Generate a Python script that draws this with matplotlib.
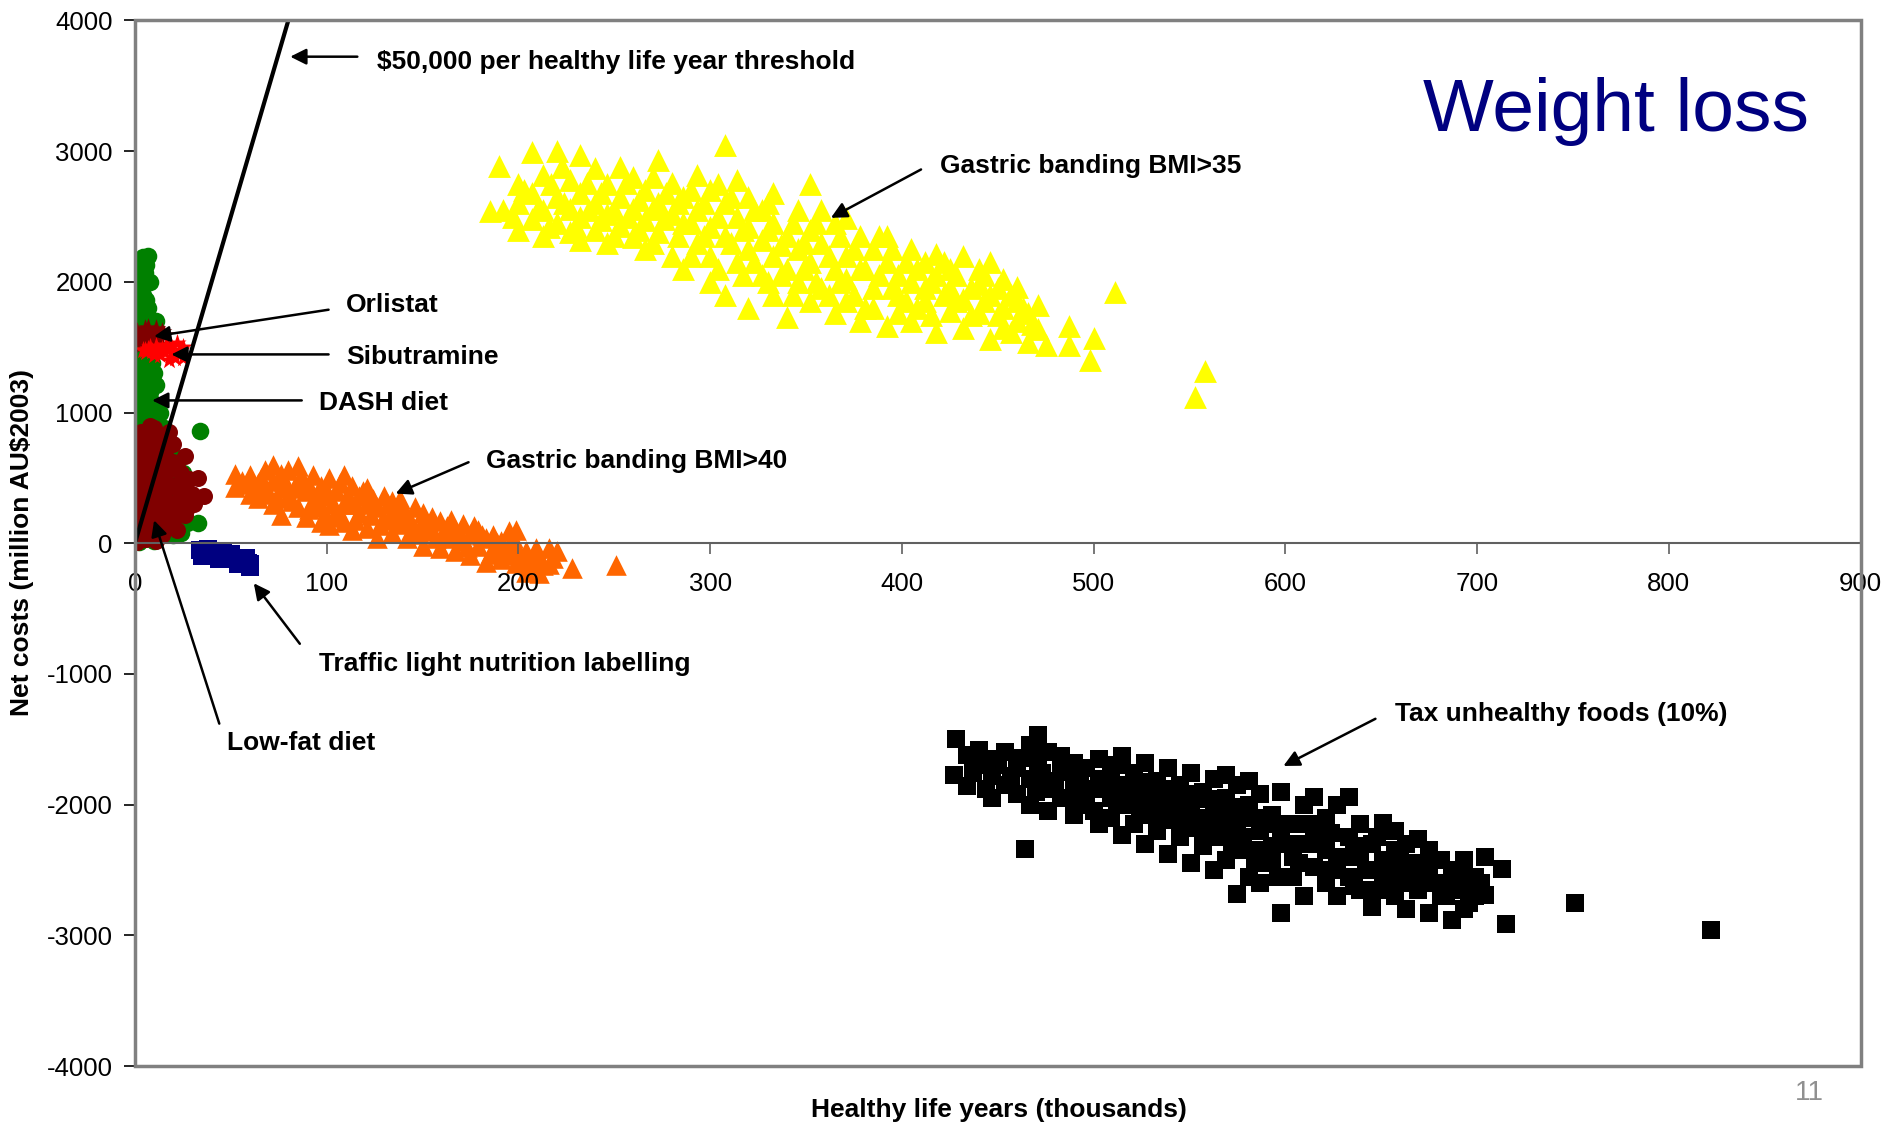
import matplotlib
matplotlib.use('Agg')
import matplotlib.pyplot as plt
from matplotlib.patches import Rectangle

plt.rcParams['font.family'] = ['Liberation Sans', 'DejaVu Sans']
plt.rcParams['axes.unicode_minus'] = False

# (healthy life years in thousands, net cost in million AU$2003)
gastric_35 = [
    (185, 2540), (190, 2890), (192, 2550),
    (200, 2400), (200, 2600), (200, 2750),
    (207, 2990), (207, 2480), (207, 2680),
    (213, 2350), (213, 2550), (213, 2820),
    (220, 3000), (220, 2450), (220, 2650),
    (227, 2380), (227, 2780), (227, 2560),
    (232, 2970), (232, 2500), (232, 2320), (232, 2680),
    (240, 2870), (240, 2600), (240, 2400),
    (246, 2300), (246, 2750), (246, 2520),
    (253, 2650), (253, 2430), (253, 2880),
    (260, 2340), (260, 2560), (260, 2800),
    (266, 2470), (266, 2700), (266, 2250),
    (273, 2930), (273, 2600), (273, 2380),
    (280, 2200), (280, 2520), (280, 2760),
    (286, 2450), (286, 2650), (286, 2100),
    (293, 2820), (293, 2300), (293, 2550),
    (300, 2000), (300, 2420), (300, 2700), (300, 2200),
    (308, 3050), (308, 2600), (308, 2350), (308, 1900),
    (314, 2500), (314, 2150), (314, 2780),
    (320, 1800), (320, 2250), (320, 2650), (320, 2420),
    (327, 2050), (327, 2550), (327, 2320),
    (333, 2680), (333, 1900), (333, 2200), (333, 2450),
    (340, 1730), (340, 2100), (340, 2350),
    (346, 2550), (346, 2000), (346, 2250),
    (352, 2750), (352, 1850), (352, 2400), (352, 2150),
    (358, 1950), (358, 2300), (358, 2550),
    (365, 1760), (365, 2100), (365, 2450),
    (371, 2490), (371, 1850), (371, 2200), (371, 2020),
    (378, 1700), (378, 2350), (378, 2100),
    (385, 1950), (385, 2250), (385, 1800),
    (392, 1660), (392, 2150), (392, 2350),
    (398, 1900), (398, 2050), (398, 1760),
    (405, 2250), (405, 1700), (405, 2000),
    (412, 1850), (412, 2150), (412, 1950),
    (418, 2210), (418, 1620), (418, 2050),
    (425, 1780), (425, 1950), (425, 2100),
    (432, 2200), (432, 1870), (432, 1650),
    (440, 1980), (440, 1760), (440, 2100),
    (446, 1560), (446, 1900), (446, 2150),
    (453, 1800), (453, 1650), (453, 2020),
    (460, 1960), (460, 1700), (460, 1850),
    (466, 1540), (466, 1760), (471, 1820), (471, 1640), (475, 1520),
    (487, 1660), (487, 1520), (498, 1400), (500, 1570), (511, 1920),
    (553, 1120), (558, 1320),
    # inner fill of the cloud
    (197, 2500), (203, 2700), (210, 2560), (216, 2420), (217, 2750),
    (223, 2880), (224, 2600), (230, 2420), (236, 2760), (237, 2550),
    (243, 2470), (243, 2680), (250, 2550), (250, 2350), (256, 2760),
    (257, 2500), (263, 2400), (263, 2630), (270, 2300), (270, 2560),
    (270, 2800), (276, 2480), (277, 2680), (283, 2350), (283, 2600),
    (290, 2200), (290, 2700), (290, 2450), (297, 2350), (297, 2600),
    (304, 2500), (304, 2100), (304, 2750), (311, 2300), (311, 2650),
    (317, 2050), (317, 2400), (323, 2550), (323, 2150), (330, 2400),
    (330, 2000), (330, 2600), (337, 2280), (337, 2050), (343, 2450),
    (343, 1900), (349, 2300), (349, 2100), (355, 2450), (355, 2000),
    (362, 2200), (362, 1900), (368, 2350), (368, 2000), (375, 2250),
    (375, 1900), (381, 2100), (381, 1800), (388, 2050), (388, 2350),
    (395, 1950), (395, 2250), (402, 2150), (402, 1850), (408, 2100),
    (408, 1800), (415, 2000), (415, 1750), (422, 1900), (422, 2150),
    (428, 1850), (428, 2050), (436, 1950), (436, 1750), (443, 1850),
    (443, 2050), (450, 1750), (450, 1950), (457, 1900), (457, 1620),
    (463, 1800), (468, 1680),
]

gastric_40 = [
    (52, 530), (52, 430), (56, 480), (60, 520), (60, 380), (64, 460), (64, 350),
    (68, 560), (68, 410), (72, 600), (72, 300), (72, 480), (76, 420), (76, 220),
    (76, 530), (80, 560), (80, 360), (85, 590), (85, 280), (85, 460), (89, 400),
    (89, 200), (93, 520), (93, 330), (97, 440), (97, 160), (97, 280), (101, 500),
    (101, 360), (101, 140), (105, 400), (105, 240), (109, 520), (109, 300),
    (109, 160), (113, 440), (113, 100), (117, 360), (117, 230), (121, 420),
    (121, 120), (121, 300), (126, 280), (126, 40), (130, 360), (130, 180),
    (134, 240), (134, 80), (134, 320), (138, 340), (138, 150), (142, 200),
    (142, 40), (146, 280), (146, 110), (150, 160), (150, -20), (150, 230),
    (155, 90), (155, 200), (159, 170), (159, -40), (163, 40), (163, 130),
    (167, 110), (167, -60), (171, 20), (171, 150), (175, 70), (175, -90),
    (179, -20), (179, 100), (183, 40), (183, -140), (187, -60), (187, 60),
    (191, 20), (191, -120), (195, -90), (195, 90), (199, -30), (199, 100),
    (199, -150), (204, -60), (204, -220), (207, -150), (211, -100), (211, -230),
    (216, -40), (216, -160), (220, -60), (228, -190), (251, -170),
    (58, 450), (62, 420), (66, 500), (70, 380), (74, 350), (78, 480), (82, 320),
    (83, 420), (87, 500), (91, 260), (91, 440), (95, 380), (99, 220), (99, 420),
    (103, 300), (107, 460), (107, 200), (111, 360), (115, 180), (115, 300),
    (119, 400), (123, 220), (124, 340), (128, 140), (132, 300), (136, 200),
    (140, 260), (144, 160), (148, 70), (152, 120), (157, 40), (161, 90),
    (165, 180), (169, 60), (173, -30), (177, 130), (181, 60), (185, -80),
    (189, 0), (193, -50), (197, 40), (202, -110), (209, -40), (213, -170),
    (218, -110),
]

tax_foods = [
    (427, -1770), (428, -1500), (434, -1620), (434, -1860), (440, -1700),
    (440, -1580), (447, -1950), (447, -1780), (447, -1650), (454, -1600),
    (454, -1850), (460, -1720), (460, -1920), (464, -2340), (467, -1540),
    (467, -1800), (467, -2000), (471, -1470), (471, -1680), (476, -1880),
    (476, -2050), (476, -1600), (483, -1750), (483, -1630), (483, -1950),
    (490, -1820), (490, -2080), (490, -1680), (496, -1900), (496, -1720),
    (496, -2000), (503, -1650), (503, -2150), (503, -1800), (509, -1950),
    (509, -1730), (509, -2100), (515, -1630), (515, -1850), (515, -2230),
    (521, -2000), (521, -1760), (521, -2150), (527, -1680), (527, -1900),
    (527, -2300), (533, -2080), (533, -1820), (533, -2200), (539, -1720),
    (539, -1960), (539, -2380), (545, -2120), (545, -1850), (545, -2250),
    (551, -1760), (551, -2000), (551, -2450), (557, -2180), (557, -1900),
    (557, -2320), (563, -1800), (563, -2080), (563, -2500), (569, -2250),
    (569, -1950), (569, -2420), (569, -1770), (575, -2680), (575, -2120),
    (575, -1850), (581, -2350), (581, -2000), (581, -2550), (581, -1820),
    (587, -2200), (587, -2600), (587, -1920), (593, -2450), (593, -2080),
    (593, -2320), (598, -2830), (598, -1900), (598, -2250), (604, -2550),
    (604, -2150), (604, -2400), (610, -2000), (610, -2700), (610, -2300),
    (615, -2480), (615, -1940), (615, -2200), (621, -2600), (621, -2350),
    (621, -2100), (627, -2000), (627, -2700), (627, -2450), (633, -1940),
    (633, -2250), (633, -2550), (639, -2650), (639, -2150), (639, -2400),
    (645, -2780), (645, -2300), (645, -2500), (651, -2140), (651, -2600),
    (651, -2420), (657, -2350), (657, -2700), (657, -2200), (663, -2500),
    (663, -2800), (663, -2300), (669, -2260), (669, -2650), (669, -2450),
    (675, -2830), (675, -2550), (675, -2350), (681, -2420), (681, -2700),
    (687, -2880), (687, -2500), (687, -2600), (693, -2420), (693, -2800),
    (693, -2650), (699, -2550), (699, -2700), (704, -2690), (704, -2400),
    (713, -2490), (715, -2910), (751, -2750), (822, -2960),
    (437, -1760), (444, -1880), (450, -1700), (457, -1780), (463, -1640),
    (470, -1900), (473, -1760), (480, -1820), (487, -1950), (487, -1700),
    (493, -1780), (500, -1880), (500, -2050), (506, -1850), (512, -2000),
    (512, -1700), (518, -1900), (524, -2080), (524, -1830), (530, -1960),
    (536, -2120), (536, -1880), (542, -2020), (548, -2180), (548, -1920),
    (554, -2100), (560, -2250), (560, -1960), (566, -2150), (572, -2350),
    (572, -2020), (578, -2250), (584, -2450), (584, -2100), (590, -2350),
    (596, -2150), (596, -2550), (602, -2300), (607, -2450), (612, -2150),
    (618, -2300), (624, -2500), (624, -2220), (630, -2400), (636, -2320),
    (636, -2620), (642, -2500), (648, -2250), (648, -2650), (654, -2500),
    (660, -2600), (660, -2400), (666, -2550), (672, -2480), (678, -2600),
    (684, -2700), (690, -2550), (696, -2750), (702, -2600),
]

traffic_light = [
    (35, -62), (37, -70), (39, -78), (41, -82), (43, -90), (45, -96),
    (47, -104), (49, -110), (51, -118), (53, -124), (55, -132), (57, -140),
    (59, -148), (60, -158), (34, -50), (48, -95), (56, -150),
    (35, -100), (40, -60), (44, -120), (50, -85), (54, -160), (58, -115),
    (60, -180), (38, -45), (46, -70),
]

dash_diet = [
    (4, 2190), (7, 2200), (5, 2070), (3, 1940), (3, 2000), (6, 1860), (2, 1800),
    (5, 1750), (11, 1700), (8, 1620), (3, 1560), (6, 1480), (2, 1420), (9, 1380),
    (4, 1320), (7, 1260), (11, 1210), (3, 1150), (8, 1100), (5, 1040), (13, 1000),
    (2, 960), (9, 920), (15, 880), (34, 860), (4, 820), (12, 780), (18, 740),
    (7, 700), (21, 660), (3, 620), (15, 580), (25, 540), (9, 500), (19, 460),
    (26, 400), (4, 360), (14, 320), (22, 280), (8, 240), (27, 157), (33, 157),
    (17, 200), (3, 150), (12, 100), (20, 60), (6, 40), (2, 10), (10, 20),
    (15, 130), (24, 230), (1, 700), (2, 1100), (1, 1650), (6, 1560),
    (2, 2120), (6, 2130), (1, 2050), (8, 2000), (4, 1900), (1, 1860), (7, 1800),
    (4, 1700), (1, 1700), (7, 1690), (2, 1600), (10, 1580), (5, 1520), (1, 1500),
    (8, 1440), (4, 1400), (1, 1350), (6, 1340), (10, 1300), (2, 1250), (5, 1200),
    (8, 1160), (1, 1080), (6, 1000), (10, 1060), (3, 1000), (7, 940), (12, 900),
    (1, 860), (6, 870), (10, 830), (2, 780), (8, 760), (15, 800), (5, 720),
    (14, 680), (10, 640), (17, 600), (6, 580), (12, 540), (20, 520), (3, 470),
    (14, 450), (7, 410), (18, 380), (11, 280), (5, 270), (16, 240), (2, 200),
    (9, 170), (20, 120), (14, 60), (24, 80), (7, 90),
]

low_fat_diet = [
    (8, 900), (18, 850), (12, 800), (4, 760), (16, 720), (26, 670), (8, 680),
    (2, 640), (20, 620), (12, 600), (5, 560), (24, 540), (15, 520), (33, 500),
    (28, 490), (1, 480), (9, 450), (20, 440), (36, 360), (30, 380), (14, 400),
    (4, 380), (23, 340), (11, 330), (2, 300), (17, 280), (27, 270), (7, 250),
    (21, 210), (1, 220), (13, 190), (4, 160), (18, 140), (9, 110), (2, 80),
    (14, 60), (6, 30), (1, 10), (22, 100), (10, 360), (16, 600), (6, 500),
    (3, 850), (10, 880), (6, 820), (14, 780), (2, 720), (9, 740), (20, 760),
    (6, 650), (15, 650), (3, 600), (9, 610), (22, 580), (2, 520), (9, 540),
    (18, 560), (5, 460), (13, 480), (24, 460), (1, 420), (8, 400), (17, 430),
    (26, 420), (4, 340), (15, 350), (30, 320), (6, 290), (12, 270), (21, 300),
    (2, 260), (9, 210), (16, 220), (26, 220), (3, 190), (12, 140), (6, 120),
    (15, 100), (1, 60), (8, 50), (3, 30), (11, 20), (19, 190), (31, 300),
]

orlistat = [
    (1, 1620), (4, 1580), (7, 1650), (10, 1600), (13, 1560), (3, 1520),
    (9, 1540), (14, 1620), (6, 1600), (2, 1560), (5, 1640), (8, 1580),
    (11, 1640), (12, 1520), (15, 1590), (0, 1590),
]

sibutramine = [
    (4, 1480), (8, 1500), (12, 1470), (16, 1520), (20, 1450), (24, 1480),
    (10, 1440), (18, 1400), (14, 1490), (22, 1530), (6, 1460), (7, 1490),
    (11, 1510), (13, 1440), (15, 1460), (17, 1480), (19, 1510), (21, 1420),
    (23, 1460), (25, 1500), (25, 1420), (9, 1470), (5, 1475),
]

threshold_x = [0, 80]
threshold_y = [0, 4000]

# label text position, arrow tail, arrow head
labels = [
    ('$50,000 per healthy life year threshold', (126, 3685), (116, 3723), (81, 3723)),
    ('Gastric banding BMI>35', (420, 2890), (410, 2860), (363, 2490)),
    ('Orlistat', (110, 1824), (101, 1787), (10, 1583)),
    ('Sibutramine', (110, 1426), (101, 1445), (19, 1445)),
    ('DASH diet', (96, 1074), (87, 1093), (9, 1093)),
    ('Gastric banding BMI>40', (183, 630), (174, 620), (136, 380)),
    ('Traffic light nutrition labelling', (96, -926), (86, -769), (62, -306)),
    ('Low-fat diet', (48, -1528), (44, -1380), (10, 176)),
    ('Tax unhealthy foods (10%)', (657, -1306), (647, -1343), (599, -1704)),
]

fig = plt.figure(figsize=(18.95, 11.25), dpi=100)
ax = fig.add_axes([0.0712, 0.0524, 0.9106, 0.9294])


def scatter(points, **kw):
    xs, ys = zip(*points)
    ax.scatter(xs, ys, linewidths=0, **kw)


scatter(gastric_35, marker='^', s=270, color='#FFFF00')
scatter(gastric_40, marker='^', s=220, color='#FF6600')
scatter(tax_foods, marker='s', s=160, color='black')
scatter(traffic_light, marker='s', s=150, color='#000080')
scatter(dash_diet, marker='o', s=160, color='#008000')
scatter(low_fat_diet, marker='o', s=150, color='#800000')
scatter(orlistat, marker='*', s=220, color='#800000')
scatter(sibutramine, marker='*', s=190, color='#FF0000')
ax.plot(threshold_x, threshold_y, color='black', lw=3)

for text, txt_pos, tail, head in labels:
    ax.annotate('', xy=head, xytext=tail,
                arrowprops=dict(arrowstyle='-|>', color='black', lw=1.8,
                                mutation_scale=24, shrinkA=0, shrinkB=0))
    ax.text(txt_pos[0], txt_pos[1], text, fontsize=19, fontweight='bold',
            ha='left', va='center')

ax.set_xlim(0, 900)
ax.set_ylim(-4000, 4000)
ax.set_xticks(range(0, 901, 100))
ax.set_yticks(range(-4000, 4001, 1000))
ax.tick_params(axis='both', labelsize=18.5, length=8, width=1.2, direction='out')
ax.tick_params(axis='x', pad=13, colors='#606060', labelcolor='black')
ax.tick_params(axis='y', pad=8)

ax.spines['bottom'].set_position(('data', 0))
ax.spines['bottom'].set_color('#606060')
ax.spines['bottom'].set_linewidth(1.5)
ax.spines['left'].set_color('black')
ax.spines['left'].set_linewidth(1.2)
ax.spines['top'].set_visible(False)
ax.spines['right'].set_visible(False)
ax.add_patch(Rectangle((0, 0), 1, 1, transform=ax.transAxes, fill=False,
                       edgecolor='#808080', lw=2.5, clip_on=False, zorder=5))

ax.text(0.97, 0.913, 'Weight loss', transform=ax.transAxes, fontsize=54,
        color='#000080', ha='right', va='center')
fig.text(0.0115, 0.518, 'Net costs (million AU$2003)', rotation=90,
         fontsize=19, fontweight='bold', ha='center', va='center')
fig.text(0.527, 0.013, 'Healthy life years (thousands)', fontsize=19,
         fontweight='bold', ha='center', va='center')
fig.text(0.955, 0.028, '11', fontsize=20, color='#909090', ha='center', va='center')

fig.savefig('out.png', dpi=100)
